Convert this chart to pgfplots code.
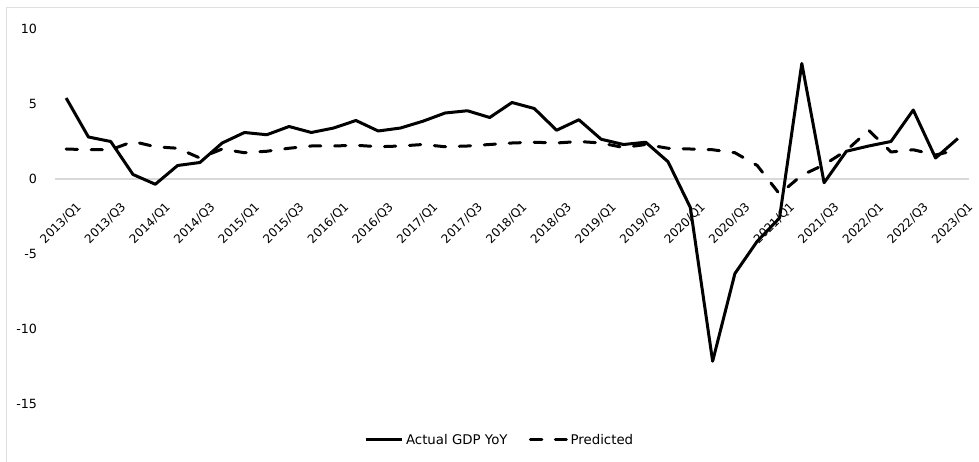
\documentclass[border=0pt]{standalone}
\usepackage{pgfplots}
\pgfplotsset{compat=1.18}
\usepackage{fontspec}
\setmainfont{DejaVu Sans}

% Quarterly GDP growth (YoY, %): actual vs. model prediction, 2013/Q1 = 0
\pgfplotstableread{
q  actual  pred
0   5.40   2.00
1   2.80   1.95
2   2.50   1.95
3   0.30   2.50
4  -0.35   2.15
5   0.90   2.05
6   1.10   1.40
7   2.40   2.00
8   3.10   1.75
9   2.95   1.85
10  3.50   2.05
11  3.10   2.20
12  3.40   2.20
13  3.90   2.25
14  3.20   2.15
15  3.40   2.20
16  3.85   2.30
17  4.40   2.15
18  4.55   2.20
19  4.10   2.30
20  5.10   2.40
21  4.70   2.45
22  3.25   2.40
23  3.95   2.50
24  2.65   2.40
25  2.30   2.10
26  2.45   2.30
27  1.15   2.05
28 -1.90   2.00
29 -12.15  1.95
30 -6.30   1.75
31 -4.15   0.90
32 -2.60  -1.00
33  7.70   0.25
34 -0.25   0.95
35  1.85   1.90
36  2.20   3.25
37  2.50   1.80
38  4.60   1.95
39  1.40   1.60
40  2.70   1.95
}\gdpdata

\begin{document}
\begin{tikzpicture}
\useasboundingbox (-41.25pt,-42.75pt) rectangle (693pt,303pt);
\draw[gray!25, line width=0.75pt] (-36pt,-60pt) -- (-36pt,297pt) -- (720pt,297pt);
\begin{axis}[
  scale only axis,
  width=685.5pt, height=281.25pt,
  xmin=-0.5, xmax=40.5, ymin=-15, ymax=10,
  axis x line=middle,
  axis y line=left,
  x axis line style={-, draw=gray!30, line width=0.8pt},
  y axis line style={draw=none},
  major tick length=0pt,
  xtick={0,2,...,40},
  xticklabels={2013/Q1,2013/Q3,2014/Q1,2014/Q3,2015/Q1,2015/Q3,2016/Q1,2016/Q3,
    2017/Q1,2017/Q3,2018/Q1,2018/Q3,2019/Q1,2019/Q3,2020/Q1,2020/Q3,2021/Q1,
    2021/Q3,2022/Q1,2022/Q3,2023/Q1},
  % shifts are given in the rotated frame of the label
  xticklabel style={rotate=45, anchor=north east, font=\fontsize{9}{10}\selectfont,
    inner sep=1pt, xshift=-5.8pt, yshift=-15.6pt},
  ytick={-15,-10,-5,0,5,10},
  yticklabels={-15,-10,-5,0,5,10},
  yticklabel style={font=\fontsize{9.5}{11}\selectfont, anchor=east, xshift=-10pt},
  clip=false,
  legend style={at={(0.487,-0.096)}, anchor=center, draw=none, fill=none,
    font=\fontsize{10}{12}\selectfont, legend columns=2,
    /tikz/every even column/.append style={column sep=14pt}},
  legend image code/.code={\draw[#1] (0pt,0pt) -- (27pt,0pt);},
]
\addplot[black, line width=2.25pt, line join=round] table[x=q, y=actual] {\gdpdata};
\addlegendentry{Actual GDP YoY}
\addplot[black, line width=2.25pt, line join=round, line cap=round,
  dash pattern=on 8.5pt off 10.25pt] table[x=q, y=pred] {\gdpdata};
\addlegendentry{Predicted}
\end{axis}
\end{tikzpicture}
\end{document}
